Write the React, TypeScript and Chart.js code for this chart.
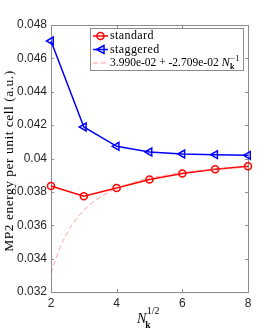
import React, { useEffect, useRef } from "react";
import { Chart, registerables } from "chart.js";

Chart.register(...registerables);

const nHalf = [2, 3, 4, 5, 6, 7, 8];
const standard = [0.03835, 0.03774, 0.03823, 0.03874, 0.0391, 0.03935, 0.03953];
const staggered = [0.04704, 0.04189, 0.04073, 0.04039, 0.04027, 0.04023, 0.04019];
const fitX = [2, 2.25, 2.5, 2.75, 3, 3.5, 4, 4.5, 5, 5.5, 6, 7, 8];
const fitY = [0.03313, 0.03455, 0.03557, 0.03632, 0.03689, 0.03769, 0.03821, 0.03856, 0.03882, 0.039, 0.03915, 0.03935, 0.03948];
const xTicks = [2, 4, 6, 8];
const yTicks = [0.032, 0.034, 0.036, 0.038, 0.04, 0.042, 0.044, 0.046, 0.048];
const legendLabels = ["standard", "staggered", "3.990e-02 + -2.709e-02 "];

const SERIF = "'Liberation Serif', 'DejaVu Serif', serif";
const SANS = "'Liberation Sans', Arial, sans-serif";
const AXIS_COLOR = "#8c8c8c";

const decor = {
  id: "decor",
  beforeDatasetsDraw(chart: any) {
    const { ctx, chartArea: a, scales } = chart;
    ctx.save();
    ctx.strokeStyle = AXIS_COLOR;
    ctx.lineWidth = 1;
    ctx.strokeRect(Math.round(a.left) + 0.5, Math.round(a.top) + 0.5, Math.round(a.right - a.left), Math.round(a.bottom - a.top));
    const tl = 3;
    ctx.beginPath();
    for (const v of xTicks) {
      const x = Math.round(scales.x.getPixelForValue(v)) + 0.5;
      ctx.moveTo(x, a.bottom);
      ctx.lineTo(x, a.bottom - tl);
      ctx.moveTo(x, a.top);
      ctx.lineTo(x, a.top + tl);
    }
    for (const v of yTicks) {
      const y = Math.round(scales.y.getPixelForValue(v)) + 0.5;
      ctx.moveTo(a.left, y);
      ctx.lineTo(a.left + tl, y);
      ctx.moveTo(a.right, y);
      ctx.lineTo(a.right - tl, y);
    }
    ctx.stroke();
    ctx.restore();
  },
  afterDraw(chart: any) {
    const { ctx, chartArea: a } = chart;
    ctx.save();
    // Legend box
    const lx = 90.5, ly = 28.5, lw = 153, lh = 42;
    ctx.fillStyle = "#ffffff";
    ctx.fillRect(lx, ly, lw, lh);
    ctx.strokeStyle = AXIS_COLOR;
    ctx.lineWidth = 1;
    ctx.strokeRect(lx, ly, lw, lh);
    const rows = [36, 49.5, 63];
    // standard
    ctx.strokeStyle = "#ff0000";
    ctx.lineWidth = 1.5;
    ctx.beginPath();
    ctx.moveTo(93, rows[0]);
    ctx.lineTo(108, rows[0]);
    ctx.stroke();
    ctx.beginPath();
    ctx.arc(100.5, rows[0], 3.5, 0, Math.PI * 2);
    ctx.stroke();
    // staggered
    ctx.strokeStyle = "#0000ff";
    ctx.beginPath();
    ctx.moveTo(93, rows[1]);
    ctx.lineTo(108, rows[1]);
    ctx.stroke();
    ctx.beginPath();
    ctx.moveTo(96.5, rows[1]);
    ctx.lineTo(104, rows[1] - 4);
    ctx.lineTo(104, rows[1] + 4);
    ctx.closePath();
    ctx.stroke();
    // fit
    ctx.strokeStyle = "rgba(255,90,90,0.6)";
    ctx.lineWidth = 1;
    ctx.setLineDash([5, 3]);
    ctx.beginPath();
    ctx.moveTo(93, rows[2]);
    ctx.lineTo(108, rows[2]);
    ctx.stroke();
    ctx.setLineDash([]);
    // texts
    ctx.fillStyle = "#000000";
    ctx.textBaseline = "middle";
    ctx.textAlign = "left";
    ctx.font = `12px ${SERIF}`;
    (ctx as any).letterSpacing = "0.4px";
    ctx.fillText(legendLabels[0], 110, rows[0]);
    ctx.fillText(legendLabels[1], 110, rows[1]);
    (ctx as any).letterSpacing = "0px";
    ctx.font = `11.5px ${SERIF}`;
    ctx.fillText(legendLabels[2], 110, rows[2]);
    let tx = 110 + ctx.measureText(legendLabels[2]).width;
    ctx.font = `italic 12.5px ${SERIF}`;
    ctx.fillText("N", tx, rows[2]);
    tx += ctx.measureText("N").width;
    ctx.font = `bold 8px ${SERIF}`;
    ctx.fillText("k", tx, rows[2] + 4);
    ctx.font = `8.5px ${SERIF}`;
    ctx.fillText("\u22121", tx + 0.5, rows[2] - 4.5);

    // x title
    ctx.textBaseline = "alphabetic";
    ctx.font = `italic 14px ${SERIF}`;
    const nx = 137;
    ctx.fillText("N", nx, 323);
    const nw = ctx.measureText("N").width;
    ctx.font = `10px ${SERIF}`;
    ctx.fillText("1/2", nx + nw + 0.5, 314);
    ctx.font = `bold 9.5px ${SERIF}`;
    ctx.fillText("k", nx + nw - 1, 327.5);

    // y title
    ctx.save();
    ctx.translate(9, 161);
    ctx.rotate(-Math.PI / 2);
    ctx.textAlign = "center";
    ctx.textBaseline = "middle";
    ctx.font = `13.5px ${SERIF}`;
    (ctx as any).letterSpacing = "0.5px";
    ctx.fillText("MP2 energy per unit cell (a.u.)", 0, 0);
    (ctx as any).letterSpacing = "0px";
    ctx.restore();
    ctx.restore();
  },
};

export default function App() {
  const ref = useRef<HTMLCanvasElement>(null);
  useEffect(() => {
    if (!ref.current) return;
    const chart = new Chart(ref.current, {
      type: "scatter",
      data: {
        datasets: [
          {
            label: "fit",
            data: fitX.map((x, i) => ({ x, y: fitY[i] })),
            showLine: true,
            borderColor: "rgba(255,90,90,0.7)",
            borderWidth: 0.8,
            borderDash: [5, 3],
            pointRadius: 0,
            cubicInterpolationMode: "monotone",
            clip: false,
          } as any,
          {
            label: "standard",
            data: nHalf.map((x, i) => ({ x, y: standard[i] })),
            showLine: true,
            borderColor: "#ff0000",
            backgroundColor: "rgba(0,0,0,0)",
            borderWidth: 1.5,
            pointStyle: "circle",
            pointRadius: 3.5,
            pointBorderWidth: 1.5,
            pointBorderColor: "#ff0000",
            pointBackgroundColor: "rgba(0,0,0,0)",
            clip: false,
          } as any,
          {
            label: "staggered",
            data: nHalf.map((x, i) => ({ x, y: staggered[i] })),
            showLine: true,
            borderColor: "#0000ff",
            backgroundColor: "rgba(0,0,0,0)",
            borderWidth: 1.5,
            pointStyle: "triangle",
            rotation: -90,
            pointRadius: 4.5,
            pointBorderWidth: 1.5,
            pointBorderColor: "#0000ff",
            pointBackgroundColor: "rgba(0,0,0,0)",
            clip: false,
          } as any,
        ],
      },
      options: {
        responsive: false,
        animation: false,
        devicePixelRatio: 1,
        layout: { padding: { top: 25, right: 26, left: 0, bottom: 0 } },
        plugins: { legend: { display: false }, tooltip: { enabled: false } },
        scales: {
          x: {
            type: "linear",
            min: 2,
            max: 8,
            afterBuildTicks: (s: any) => {
              s.ticks = xTicks.map((v) => ({ value: v }));
            },
            ticks: { color: "#262626", font: { family: SANS, size: 12 }, padding: 4, maxRotation: 0 },
            grid: { display: false, drawTicks: false },
            border: { display: false },
            afterFit: (s: any) => {
              s.height = 37;
            },
          },
          y: {
            type: "linear",
            min: 0.032,
            max: 0.048,
            afterBuildTicks: (s: any) => {
              s.ticks = yTicks.map((v) => ({ value: v }));
            },
            ticks: {
              color: "#262626",
              font: { family: SANS, size: 12 },
              padding: 4,
              callback: (v: any) => String(parseFloat(Number(v).toFixed(3))),
            },
            grid: { display: false, drawTicks: false },
            border: { display: false },
            afterFit: (s: any) => {
              s.width = 51;
            },
          },
        },
      },
      plugins: [decor],
    });
    return () => chart.destroy();
  }, []);
  return (
    <div style={{ position: "fixed", left: 0, top: 0, width: 274, height: 329, background: "#fff" }}>
      <canvas ref={ref} width={274} height={329} style={{ width: 274, height: 329, display: "block" }} />
    </div>
  );
}
